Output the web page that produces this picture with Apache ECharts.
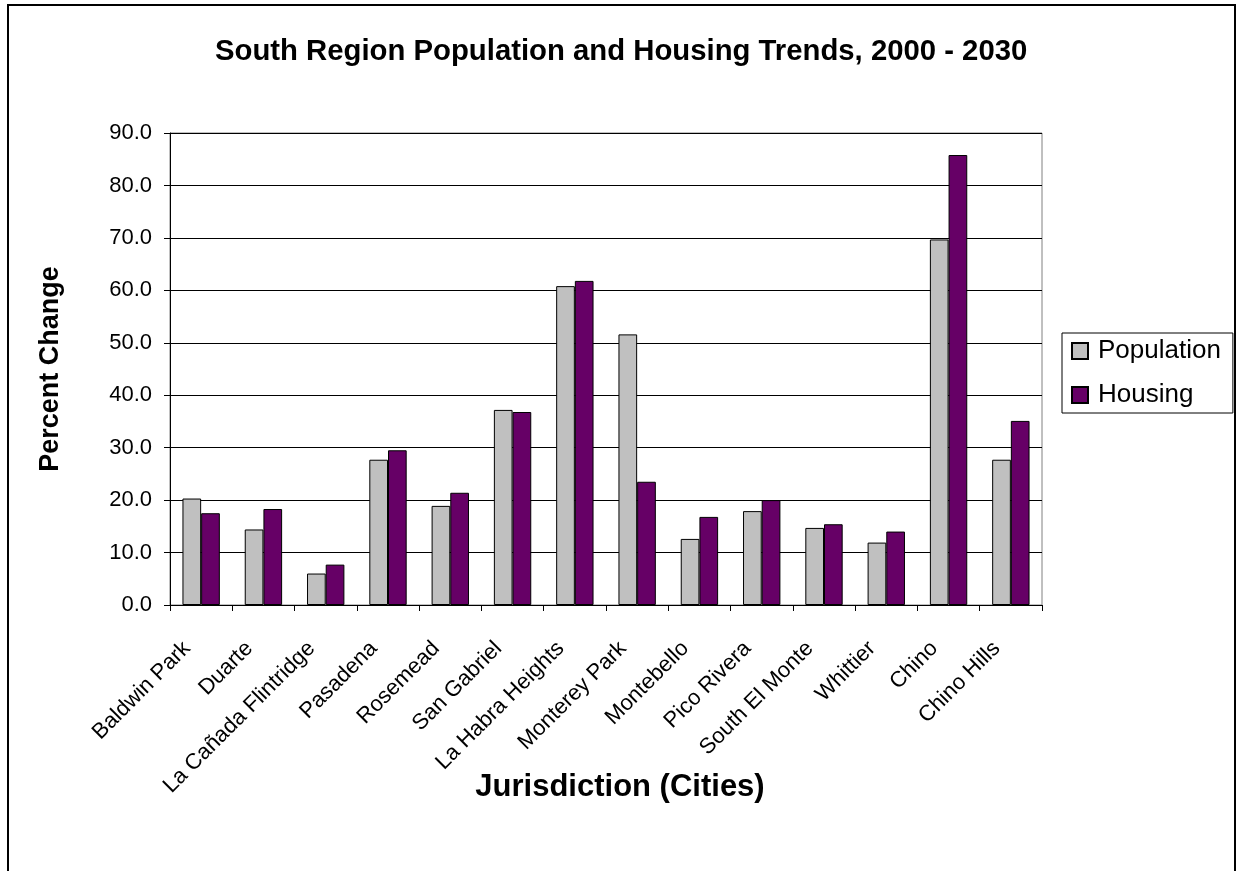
<!DOCTYPE html>
<html>
<head>
<meta charset="utf-8">
<script src="https://cdn.jsdelivr.net/npm/echarts@6/dist/echarts.min.js"></script>
<style>
  html, body { margin: 0; padding: 0; background: #fff; }
  #chart { width: 1236px; height: 871px; }
</style>
</head>
<body>
<div id="chart"></div>
<script>
const categories = ['Baldwin Park', 'Duarte', 'La Cañada Flintridge', 'Pasadena', 'Rosemead', 'San Gabriel', 'La Habra Heights', 'Monterey Park', 'Montebello', 'Pico Rivera', 'South El Monte', 'Whittier', 'Chino', 'Chino Hills'];
const population = [20.3, 14.4, 6.0, 27.7, 18.9, 37.2, 60.8, 51.6, 12.6, 17.9, 14.7, 11.9, 69.7, 27.7];
const housing = [17.5, 18.3, 7.7, 29.5, 21.4, 36.8, 61.8, 23.5, 16.8, 20.0, 15.4, 14.0, 85.8, 35.1];
const yTicks = { min: 0, max: 90, interval: 10 };

const FONT = 'Arial, "Liberation Sans", sans-serif';
const chart = echarts.init(document.getElementById('chart'), null, { renderer: 'canvas' });
chart.setOption({
  backgroundColor: '#ffffff',
  animation: false,
  textStyle: { fontFamily: FONT, color: '#000' },
  title: {
    text: 'South Region Population and Housing Trends, 2000 - 2030',
    left: 215,
    top: 37,
    padding: 0,
    textStyle: { fontFamily: FONT, fontSize: 29.3, fontWeight: 'bold', color: '#000' }
  },
  graphic: [{
    type: 'rect',
    shape: { x: 8, y: 5, width: 1227, height: 900 },
    style: { fill: 'none', stroke: '#000', lineWidth: 2 },
    silent: true
  }],
  legend: {
    orient: 'vertical',
    left: 1062,
    top: 333,
    width: 170,
    padding: [5, 12, 5, 9],
    itemWidth: 16,
    itemHeight: 16,
    itemGap: 18,
    icon: 'rect',
    borderColor: '#000',
    borderWidth: 1,
    textStyle: { fontFamily: FONT, fontSize: 26, color: '#000', padding: [0, 0, 0, 5] },
    data: ['Population', 'Housing']
  },
  grid: {
    left: 170, right: 194, top: 133, bottom: 266,
    show: true, borderColor: '#808080', borderWidth: 1, backgroundColor: 'transparent'
  },
  xAxis: {
    type: 'category',
    data: categories,
    name: 'Jurisdiction (Cities)',
    nameLocation: 'middle',
    nameGap: 167,
    nameMoveOverlap: false,
    nameTextStyle: { fontFamily: FONT, fontSize: 31, fontWeight: 'bold', color: '#000', padding: [0, 0, 0, 28] },
    axisLine: { show: true, lineStyle: { color: '#000', width: 1 } },
    axisTick: { show: true, length: 6, lineStyle: { color: '#000' } },
    axisLabel: { rotate: 45, interval: 0, margin: 26, padding: [0, 20, 0, 0], fontFamily: FONT, fontSize: 22, color: '#000' },
    splitLine: { show: false }
  },
  yAxis: {
    type: 'value',
    min: yTicks.min, max: yTicks.max, interval: yTicks.interval,
    name: 'Percent Change',
    nameLocation: 'middle',
    nameGap: 106,
    nameMoveOverlap: false,
    nameTextStyle: { fontFamily: FONT, fontSize: 27, fontWeight: 'bold', color: '#000' },
    axisLine: { show: true, lineStyle: { color: '#000', width: 1 } },
    axisTick: { show: true, length: 6, lineStyle: { color: '#000' } },
    axisLabel: { margin: 18, fontFamily: FONT, fontSize: 22, color: '#000', formatter: v => v.toFixed(1) },
    splitLine: { show: true, lineStyle: { color: '#000', width: 1 } }
  },
  series: [
    {
      name: 'Population', type: 'bar', data: population,
      barGap: '0%', barCategoryGap: '40%',
      itemStyle: { color: '#C0C0C0', borderColor: '#000', borderWidth: 1 }
    },
    {
      name: 'Housing', type: 'bar', data: housing,
      itemStyle: { color: '#660066', borderColor: '#000', borderWidth: 1 }
    }
  ]
});
</script>
</body>
</html>
